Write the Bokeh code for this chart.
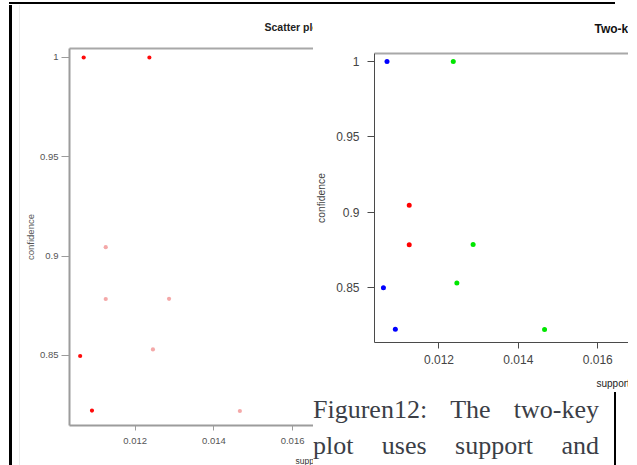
from bokeh.plotting import figure
from bokeh.models import Range1d, FixedTicker, Title, Div, ColumnDataSource, LinearAxis
from bokeh.layouts import row, column
from bokeh.transform import linear_cmap, factor_cmap
from bokeh.embed import file_html
from bokeh.resources import INLINE
import numpy as np

# ---- data ----
support = [0.01069, 0.01236, 0.01125, 0.01125, 0.01286, 0.01060, 0.01245, 0.01090, 0.01466]
confidence = [1.000, 1.000, 0.9045, 0.8784, 0.8785, 0.8497, 0.8530, 0.8222, 0.8220]
lift = [7.0, 7.1, 3.3, 3.3, 3.2, 7.2, 3.3, 7.2, 3.1]
order = ["4", "3", "2", "2", "3", "4", "3", "4", "3"]
order_levels = ["2", "3", "4"]

x_ticks = [0.012, 0.014, 0.016]
x_tick_labels = ["0.012", "0.014", "0.016"]
y_ticks = [0.85, 0.9, 0.95, 1.0]
y_tick_labels = ["0.85", "0.9", "0.95", "1"]

title_left = "Scatter plot for 9 rules"
title_right = "Two-key plot"
x_label = "support"
y_label = "confidence"

FONT = "Liberation Sans"

src = ColumnDataSource(dict(support=support, confidence=confidence, lift=lift, order=order))

def hexlerp(c1, c2, n):
    a = np.array([int(c1[i:i + 2], 16) for i in (1, 3, 5)], float)
    b = np.array([int(c2[i:i + 2], 16) for i in (1, 3, 5)], float)
    out = []
    for t in np.linspace(0, 1, n):
        c = a + (b - a) * t
        out.append("#%02x%02x%02x" % tuple(int(round(v)) for v in c))
    return out

shade = hexlerp("#f4a8a8", "#ff0a0a", 12)


def style_axes(p, font_px, tick_out_y, standoff_y, tick_out_x, standoff_x, axis_col, axis_w, lab_col):
    for ax in p.xaxis:
        ax.ticker = FixedTicker(ticks=x_ticks)
        ax.major_label_overrides = dict(zip(x_ticks, x_tick_labels))
        ax.minor_tick_line_color = None
        ax.major_tick_in = 0
        ax.major_tick_out = tick_out_x
        ax.major_label_standoff = standoff_x
        ax.axis_line_color = axis_col
        ax.axis_line_width = axis_w
        ax.major_tick_line_color = axis_col
        ax.major_label_text_font = FONT
        ax.major_label_text_font_size = font_px
        ax.major_label_text_color = lab_col
    for ax in p.yaxis:
        ax.ticker = FixedTicker(ticks=y_ticks)
        ax.major_label_overrides = dict(zip(y_ticks, y_tick_labels))
        ax.minor_tick_line_color = None
        ax.major_tick_in = 0
        ax.major_tick_out = tick_out_y
        ax.major_label_standoff = standoff_y
        ax.axis_line_color = axis_col
        ax.axis_line_width = axis_w
        ax.major_tick_line_color = axis_col
        ax.major_label_text_font = FONT
        ax.major_label_text_font_size = font_px
        ax.major_label_text_color = lab_col
        ax.major_label_orientation = "horizontal"


def frame_line_axis(color, width):
    """Tick-less axis drawing the frame's top line."""
    return LinearAxis(ticker=FixedTicker(ticks=[]), major_tick_in=0, major_tick_out=0,
                      minor_tick_in=0, minor_tick_out=0, major_label_standoff=0,
                      major_tick_line_color=None, minor_tick_line_color=None,
                      axis_line_color=color, axis_line_width=width)


def gap(px):
    """Blank side panel used as vertical spacing."""
    return Title(text=" ", text_font_size="1px", standoff=px, text_color="#ffffff")


# ---- left figure: scatter plot shaded by lift ----
X1 = (0.010329, 0.016532)
Y1 = (0.8147, 1.00453)
p1 = figure(width=293, height=460, output_backend="svg", toolbar_location=None,
            x_range=Range1d(*X1), y_range=Range1d(*Y1),
            min_border_left=48, min_border_right=0, min_border_top=43, min_border_bottom=40,
            outline_line_color=None, background_fill_color="white", border_fill_color="white",
            margin=0)
p1.grid.visible = False
style_axes(p1, "9.5px", 8, 3, 5, 7, "#9c9c9c", 2, "#555555")
p1.add_layout(frame_line_axis("#a8a8a8", 2), "above")
p1.add_layout(gap(13), "above")
p1.add_layout(Title(text=title_left, align="left", offset=195, standoff=0, text_font=FONT,
                    text_font_size="10.5px", text_font_style="bold", text_color="#222222"), "above")
p1.scatter("support", "confidence", source=src, size=4.2, line_color=None,
           fill_color=linear_cmap("lift", shade, 3.0, 7.2))
p1.add_layout(Title(text=y_label, align="center", standoff=4, text_font=FONT,
                    text_font_size="9.5px", text_font_style="normal", text_color="#555555"), "left")
p1.add_layout(gap(4), "below")
p1.add_layout(Title(text=x_label, align="left", offset=226, standoff=0, text_font=FONT,
                    text_font_size="8.5px", text_font_style="normal", text_color="#333333"), "below")

# ---- right figure: two-key plot coloured by order ----
X2 = (0.010375, 0.016775)
Y2 = (0.81341, 1.00531)
p2 = figure(width=315, height=385, output_backend="svg", toolbar_location=None,
            x_range=Range1d(*X2), y_range=Range1d(*Y2),
            min_border_left=59, min_border_right=0, min_border_top=48, min_border_bottom=48,
            outline_line_color=None, background_fill_color="white", border_fill_color="white",
            margin=0)
p2.grid.visible = False
style_axes(p2, "12px", 7, 8, 6, 6, "#4a4a4a", 1, "#444444")
p2.yaxis.axis_label = y_label
p2.yaxis.axis_label_text_font = FONT
p2.yaxis.axis_label_text_font_size = "10.3px"
p2.yaxis.axis_label_text_font_style = "normal"
p2.yaxis.axis_label_text_color = "#444444"
p2.yaxis.axis_label_standoff = 6
p2.add_layout(frame_line_axis("#a8a8a8", 2), "above")
p2.add_layout(gap(15), "above")
p2.add_layout(Title(text=title_right, align="left", offset=220, standoff=0, text_font=FONT,
                    text_font_size="12px", text_font_style="bold", text_color="#111111"), "above")
p2.scatter("support", "confidence", source=src, size=5, line_color=None,
           fill_color=factor_cmap("order", ["#ff0000", "#00e600", "#0000ff"], order_levels))
p2.add_layout(gap(6), "below")
p2.add_layout(Title(text=x_label, align="left", offset=222, standoff=0, text_font=FONT,
                    text_font_size="10px", text_font_style="normal", text_color="#222222"), "below")

# ---- page decorations and caption ----
top_line = Div(width=606, height=2, margin=(2, 22, 1, 9), styles={"background-color": "#000000"})
left_black = Div(width=3, height=460, margin=(0, 7, 0, 9), styles={"background-color": "#000000"})
left_gray = Div(width=1, height=460, margin=0, styles={"background-color": "#ececec"})

cap_html = (
    '<div style="font-family:\'Liberation Serif\',serif;font-size:26px;line-height:36px;'
    'color:#3b3e46;width:286px;padding-top:2px;">'
    '<div><span style="display:flex;justify-content:space-between;"><span>Figuren12:</span><span>The</span><span>two-key</span></span></div>'
    '<div><span style="display:flex;justify-content:space-between;"><span>plot</span><span>uses</span><span>support</span><span>and</span></span></div>'
    '</div>'
)
caption = Div(width=286, height=75, margin=0, text=cap_html)
right_black = Div(width=2, height=73, margin=(2, 12, 0, 15), styles={"background-color": "#000000"})

right_col = column(p2, row(caption, right_black, spacing=0), spacing=0)
main = row(left_black, left_gray, p1, right_col, spacing=0)
layout = column(top_line, main, spacing=0)

open("out.html", "w").write(file_html(layout, INLINE))
